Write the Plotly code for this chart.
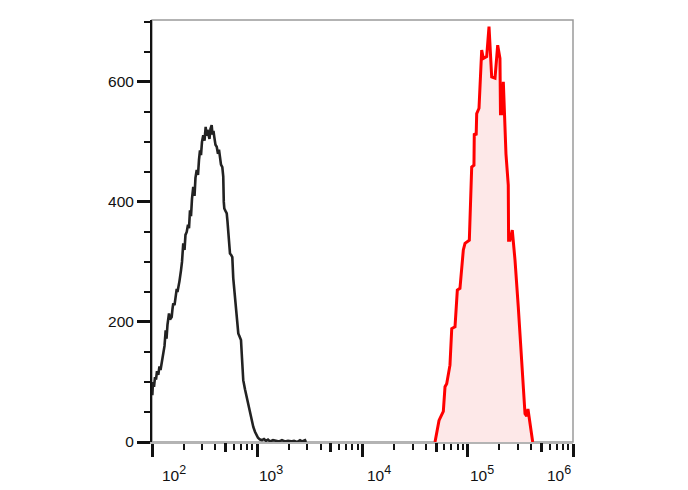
import numpy as np
import plotly.graph_objects as go

# ---- data (log10 fluorescence intensity, event count) ----
black_log10 = [2.003, 2.0095, 2.019, 2.0285, 2.038, 2.0475, 2.060, 2.071, 2.081, 2.092,
               2.100, 2.107, 2.119, 2.130, 2.138, 2.147, 2.1615, 2.171, 2.187, 2.195,
               2.202, 2.214, 2.225, 2.235, 2.242, 2.250, 2.261, 2.2755, 2.285, 2.297,
               2.309, 2.318, 2.330, 2.342, 2.3515, 2.361, 2.3705, 2.380, 2.392, 2.404,
               2.413, 2.425, 2.437, 2.4465, 2.456, 2.4655, 2.475, 2.487, 2.499, 2.510,
               2.518, 2.527, 2.535, 2.546, 2.556, 2.567, 2.575, 2.584, 2.592, 2.603,
               2.615, 2.627, 2.6365, 2.646, 2.6555, 2.668, 2.677, 2.682, 2.687, 2.698,
               2.710, 2.717, 2.725, 2.7315, 2.741, 2.7505, 2.763, 2.772, 2.784, 2.795,
               2.808, 2.820, 2.831, 2.8455, 2.855, 2.867, 2.8835, 2.900, 2.912, 2.931,
               2.945, 2.9625, 2.9785, 2.995, 3.007, 3.026, 3.045, 3.064, 3.083, 3.102,
               3.121, 3.150, 3.178, 3.207, 3.235, 3.264, 3.292, 3.321, 3.349, 3.378,
               3.406, 3.425, 3.454, 3.463]
black_count = [78, 100, 92, 108, 104, 118, 112, 126, 120, 131,
               140, 153, 160, 186, 172, 195, 214, 204, 208, 222,
               231, 228, 244, 255, 250, 261, 268, 286, 300, 331,
               320, 345, 350, 362, 356, 386, 376, 405, 425, 410,
               440, 453, 445, 470, 486, 478, 500, 511, 502, 525,
               510, 520, 514, 505, 522, 528, 512, 518, 508, 495,
               492, 480, 487, 470, 462, 458, 442, 400, 389, 385,
               381, 368, 353, 338, 314, 312, 308, 273, 250, 219,
               200, 181, 176, 170, 140, 103, 88, 75, 62, 47,
               37, 25, 17, 11, 7, 4, 3, 5, 2, 4,
               1, 3, 2, 1, 3, 1, 2, 1, 2, 0,
               3, 1, 3, 0]

red_log10 = [4.689, 4.727, 4.768, 4.784, 4.800, 4.831, 4.848, 4.879, 4.901, 4.926,
             4.958, 4.974, 5.015, 5.0375, 5.059, 5.062, 5.080, 5.085, 5.107, 5.1325,
             5.148, 5.180, 5.202, 5.2275, 5.259, 5.2845, 5.306, 5.311, 5.3225, 5.338,
             5.363, 5.385, 5.388, 5.401, 5.423, 5.449, 5.480, 5.5126, 5.544, 5.560,
             5.572, 5.617]
red_count = [0, 36, 51, 92, 97, 128, 189, 192, 253, 256,
             320, 331, 336, 458, 461, 514, 511, 547, 556, 653,
             639, 642, 692, 608, 606, 661, 639, 547, 547, 600,
             480, 428, 336, 336, 353, 303, 225, 125, 47, 43,
             55, 0]

x_decades = [2, 3, 4, 5, 6]
y_major = [0, 200, 400, 600]
mid_ticks = [500, 5000, 50000, 500000]

black_x = np.power(10.0, black_log10)
red_x = np.power(10.0, red_log10)

fig = go.Figure()
fig.add_trace(go.Scatter(x=red_x, y=red_count, mode="lines",
                         line=dict(color="#ff0000", width=3),
                         fill="tozeroy", fillcolor="#fde8e8",
                         hoverinfo="skip", showlegend=False))
fig.add_trace(go.Scatter(x=black_x, y=black_count, mode="lines",
                         line=dict(color="#222222", width=2.6),
                         hoverinfo="skip", showlegend=False))
# helper trace for the medium-length tick axis
fig.add_trace(go.Scatter(x=[100, 1000000], y=[0, 0], xaxis="x2", mode="lines",
                         line=dict(width=0), hoverinfo="skip", showlegend=False))

font_fam = "Liberation Sans, Arial, sans-serif"

fig.update_layout(
    width=688, height=490,
    margin=dict(l=144, r=123, t=12, b=56),
    paper_bgcolor="white", plot_bgcolor="white",
    font=dict(family=font_fam, size=15, color="#111111"),
    xaxis=dict(type="log", range=[2, 6], showgrid=False, zeroline=False,
               showline=True, linecolor="#b4b4b4", linewidth=2,
               ticks="outside", ticklen=13, tickwidth=3, tickcolor="#111111",
               tickvals=[10 ** d for d in x_decades], showticklabels=False,
               minor=dict(dtick="D1", ticks="outside", ticklen=6, tickwidth=2,
                          tickcolor="#111111", showgrid=False)),
    xaxis2=dict(type="log", range=[2, 6], overlaying="x", side="bottom", anchor="y",
                showgrid=False, zeroline=False, showline=False,
                ticks="outside", ticklen=9, tickwidth=3, tickcolor="#111111",
                tickvals=mid_ticks, showticklabels=False),
    yaxis=dict(range=[0, 703], showgrid=False, zeroline=False,
               showline=True, linecolor="#111111", linewidth=2,
               ticks="outside", ticklen=13, tickwidth=3, tickcolor="#111111",
               tickvals=y_major, ticktext=[str(v) for v in y_major],
               tickfont=dict(size=15.5),
               minor=dict(dtick=50, tick0=0, ticks="outside", ticklen=6, tickwidth=2,
                          tickcolor="#111111", showgrid=False)),
    shapes=[dict(type="rect", xref="paper", yref="paper", x0=0, x1=1, y0=0, y1=1,
                 line=dict(color="#9a9a9a", width=1.5), layer="below")],
)

# decade labels (10^n) under the x axis
anchors = {2: ("left", 8), 3: ("left", 0), 4: ("left", 2), 5: ("left", 0), 6: ("right", 0)}
for d in x_decades:
    xa, xs = anchors[d]
    fig.add_annotation(x=d, xref="x", y=0, yref="paper",
                       text="10<sup><span style='font-size:12.5px'>%d</span></sup>" % d,
                       showarrow=False,
                       xanchor=xa, yanchor="middle", xshift=xs, yshift=-31,
                       font=dict(family=font_fam, size=15.5, color="#111111"))

fig.write_html("out.html", config={"displayModeBar": False})
